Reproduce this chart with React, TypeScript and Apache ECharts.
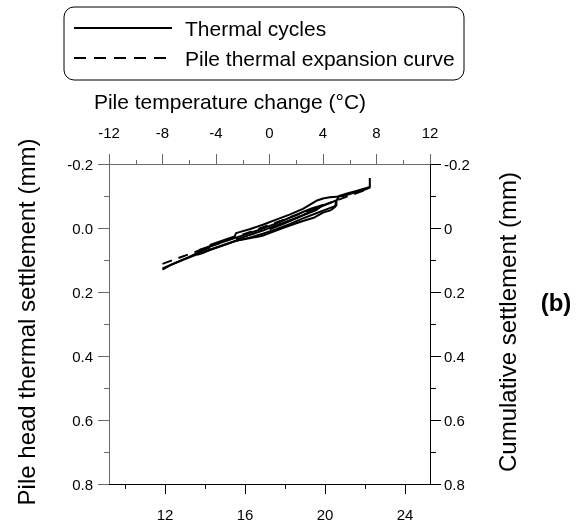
import React, { useEffect, useRef } from "react";
import * as echarts from "echarts";

// Thermal cycles: [pile temperature change (°C), pile head thermal settlement (mm)]
const heating1: [number, number][] = [
  [0.0, 0.004], [1.0, -0.012], [2.0, -0.03], [3.0, -0.05], [3.8, -0.066], [4.5, -0.078], [5.0, -0.086],
];
const cooling1: [number, number][] = [
  [5.0, -0.086], [5.0, -0.07], [4.5, -0.062], [3.5, -0.046], [2.5, -0.03], [1.5, -0.012],
  [0.5, 0.004], [-0.5, 0.018], [-1.5, 0.03], [-2.5, 0.04], [-3.5, 0.054], [-4.5, 0.068],
  [-5.5, 0.084], [-6.5, 0.1], [-7.3, 0.114], [-8.0, 0.13],
];
const heating2: [number, number][] = [
  [-8.0, 0.126], [-7.0, 0.108], [-6.0, 0.09], [-5.0, 0.07], [-4.5, 0.062], [-4.4, 0.052],
  [-3.0, 0.032], [-2.6, 0.026], [-2.5, 0.016], [-1.5, 0.004], [-0.5, -0.01], [0.5, -0.026],
  [1.5, -0.042], [2.5, -0.06], [3.0, -0.072], [3.5, -0.085], [4.0, -0.092], [4.5, -0.096],
  [5.0, -0.098], [5.5, -0.1], [6.0, -0.106], [6.5, -0.112], [7.0, -0.118], [7.5, -0.126],
  [7.5, -0.156],
];
const cooling2: [number, number][] = [
  [7.5, -0.128], [6.5, -0.116], [5.8, -0.108], [5.2, -0.1], [5.0, -0.085], [4.9, -0.066],
  [4.6, -0.056], [4.0, -0.048], [3.3, -0.032], [2.5, -0.022], [2.0, -0.015], [1.0, 0.0],
  [0.0, 0.016], [-0.5, 0.024], [-1.5, 0.032], [-2.5, 0.04], [-3.5, 0.055], [-4.5, 0.07],
  [-5.0, 0.078], [-5.4, 0.084],
];
const heating3: [number, number][] = [
  [-5.4, 0.084], [-5.2, 0.068], [-4.5, 0.058], [-3.5, 0.044], [-2.5, 0.03], [-1.5, 0.016],
  [-0.5, 0.002], [0.5, -0.014], [1.5, -0.032], [2.5, -0.05], [3.2, -0.062], [4.0, -0.072],
];
const cooling3: [number, number][] = [
  [4.0, -0.072], [3.5, -0.056], [2.5, -0.04], [1.5, -0.024], [0.5, -0.008], [-0.5, 0.008],
  [-1.5, 0.022], [-2.5, 0.036],
];
const expansionCurve: [number, number][] = [
  [-8.0, 0.112], [7.5, -0.124],
];

const topTicks = [-12, 12, 4];
const bottomMajor = [12, 16, 20, 24];
const bottomMinor = [10, 14, 18, 22];
const settleRange = [-0.2, 0.8, 0.2];

const FONT = "'Liberation Sans', Arial, sans-serif";

export default function App() {
  const ref = useRef<HTMLDivElement>(null);
  useEffect(() => {
    if (!ref.current) return;
    const chart = echarts.init(ref.current, null, { renderer: "svg" });
    const gridL = 109, gridT = 164, gridW = 321, gridH = 320;
    const gray = "#6a6a6a";
    const cycleSeries = [heating1, cooling1, heating2, cooling2, heating3, cooling3].map((d, i) => ({
      name: "Thermal cycles " + i,
      type: "line",
      xAxisIndex: 0,
      yAxisIndex: 0,
      data: d,
      showSymbol: false,
      lineStyle: { color: "#000", width: 2, join: "round" },
      z: 3,
    }));
    chart.setOption({
      animation: false,
      textStyle: { fontFamily: FONT },
      grid: { left: gridL, top: gridT, width: gridW, height: gridH, containLabel: false },
      xAxis: [
        {
          type: "value", position: "top", min: topTicks[0], max: topTicks[1], interval: topTicks[2],
          axisLine: { show: true, onZero: false, lineStyle: { color: gray, width: 1 } },
          axisTick: { show: true, inside: false, length: 10, lineStyle: { color: gray } },
          minorTick: { show: true, splitNumber: 2, length: 4, lineStyle: { color: gray } },
          axisLabel: { color: "#000", fontSize: 15, fontFamily: FONT, margin: 24 },
          splitLine: { show: false },
        },
        {
          type: "value", position: "bottom", min: 9.2, max: 25.25,
          axisLine: { show: true, onZero: false, lineStyle: { color: "#000", width: 1 } },
          axisTick: { show: true, inside: false, length: 10, customValues: bottomMajor, lineStyle: { color: "#000" } },
          axisLabel: { color: "#000", fontSize: 15, fontFamily: FONT, margin: 23, customValues: bottomMajor },
          splitLine: { show: false },
        },
        {
          type: "value", position: "bottom", min: 9.2, max: 25.25, offset: 0,
          axisLine: { show: false, onZero: false },
          axisTick: { show: true, inside: false, length: 5, customValues: bottomMinor, lineStyle: { color: "#000" } },
          axisLabel: { show: false },
          splitLine: { show: false },
        },
      ],
      yAxis: [
        {
          type: "value", position: "left", inverse: true, min: settleRange[0], max: settleRange[1], interval: settleRange[2],
          axisLine: { show: true, onZero: false, lineStyle: { color: gray, width: 1 } },
          axisTick: { show: true, inside: false, length: 11, lineStyle: { color: gray } },
          minorTick: { show: true, splitNumber: 2, length: 5, lineStyle: { color: gray } },
          axisLabel: { color: "#000", fontSize: 15, fontFamily: FONT, margin: 16, formatter: (v: number) => v.toFixed(1) },
          splitLine: { show: false },
        },
        {
          type: "value", position: "right", inverse: true, min: settleRange[0], max: settleRange[1], interval: settleRange[2],
          axisLine: { show: true, onZero: false, lineStyle: { color: "#000", width: 1 } },
          axisTick: { show: true, inside: false, length: 11, lineStyle: { color: "#000" } },
          minorTick: { show: true, splitNumber: 2, length: 6, lineStyle: { color: "#000" } },
          axisLabel: { color: "#000", fontSize: 15, fontFamily: FONT, margin: 14, formatter: (v: number) => String(parseFloat(v.toFixed(2))) },
          splitLine: { show: false },
        },
      ],
      series: [
        ...cycleSeries,
        {
          name: "Pile thermal expansion curve",
          type: "line",
          xAxisIndex: 0,
          yAxisIndex: 0,
          data: expansionCurve,
          showSymbol: false,
          lineStyle: { color: "#000", width: 2, type: [10, 7] },
          z: 2,
        },
      ],
      graphic: [
        { type: "rect", shape: { x: 64, y: 7, width: 400, height: 73, r: 10 }, style: { fill: "#fff", stroke: "#000", lineWidth: 1 } },
        { type: "line", shape: { x1: 74, y1: 28, x2: 172, y2: 28 }, style: { stroke: "#000", lineWidth: 2 } },
        { type: "text", x: 185, y: 28, style: { text: "Thermal cycles", fontSize: 21, fontFamily: FONT, fill: "#000", verticalAlign: "middle", textAlign: "left" } },
        { type: "line", shape: { x1: 74, y1: 58, x2: 172, y2: 58 }, style: { stroke: "#000", lineWidth: 2, lineDash: [12, 8] } },
        { type: "text", x: 185, y: 58, style: { text: "Pile thermal expansion curve", fontSize: 21, fontFamily: FONT, fill: "#000", verticalAlign: "middle", textAlign: "left" } },
        { type: "text", x: 230, y: 101, style: { text: "Pile temperature change (°C)", fontSize: 21, fontFamily: FONT, fill: "#000", verticalAlign: "middle", textAlign: "center" } },
        { type: "text", x: 26, y: 322, rotation: Math.PI / 2, style: { text: "Pile head thermal settlement (mm)", fontSize: 24, fontFamily: FONT, fill: "#000", verticalAlign: "middle", textAlign: "center" } },
        { type: "text", x: 507, y: 322, rotation: Math.PI / 2, style: { text: "Cumulative settlement (mm)", fontSize: 24, fontFamily: FONT, fill: "#000", verticalAlign: "middle", textAlign: "center" } },
        { type: "text", x: 556, y: 302, style: { text: "(b)", fontSize: 24, fontWeight: "bold", fontFamily: FONT, fill: "#000", verticalAlign: "middle", textAlign: "center" } },
      ],
    });
    return () => chart.dispose();
  }, []);
  return <div ref={ref} style={{ position: "fixed", left: 0, top: 0, width: 587, height: 527 }} />;
}
